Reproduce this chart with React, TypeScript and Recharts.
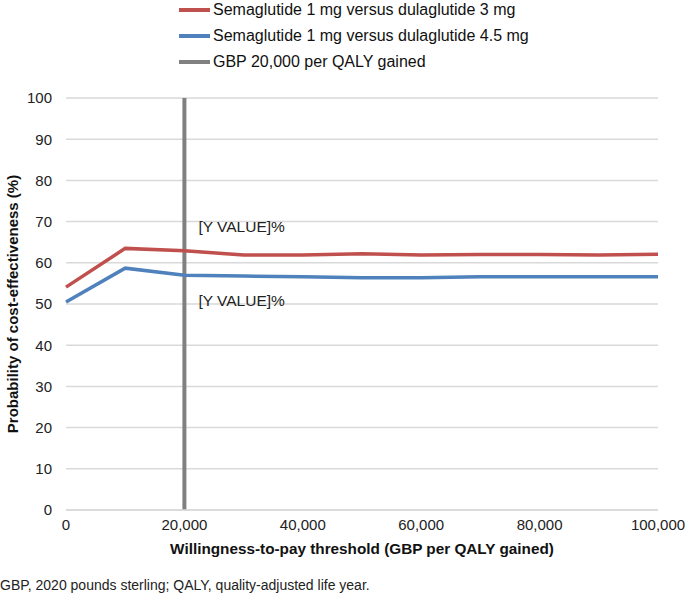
import { LineChart, Line, XAxis, YAxis, CartesianGrid, ReferenceLine, Label } from "recharts"

const thresholds = [0, 10000, 20000, 30000, 40000, 50000, 60000, 70000, 80000, 90000, 100000]
const vsDula3mg = [54.1, 63.5, 62.9, 61.9, 61.9, 62.2, 61.9, 62.0, 62.0, 61.9, 62.1]
const vsDula45mg = [50.5, 58.7, 57.0, 56.8, 56.6, 56.4, 56.4, 56.6, 56.6, 56.6, 56.6]
const xTicks = [0, 20000, 40000, 60000, 80000, 100000]
const yTicks = [0, 10, 20, 30, 40, 50, 60, 70, 80, 90, 100]
const wtpLine = 20000
const labelAt = 20000

const legendItems = [
    { name: "Semaglutide 1 mg versus dulaglutide 3 mg", color: "#c0504d" },
    { name: "Semaglutide 1 mg versus dulaglutide 4.5 mg", color: "#4f81bd" },
    { name: "GBP 20,000 per QALY gained", color: "#808080" },
]

const data = thresholds.map((t, i) => ({ wtp: t, dula3: vsDula3mg[i], dula45: vsDula45mg[i] }))

const font = "'Liberation Sans', Arial, sans-serif"

function LegendBox() {
    return (
        <div style={{ position: "absolute", left: 179, top: -3, fontFamily: font, fontSize: 16, color: "#111" }}>
            {legendItems.map((it) => (
                <div key={it.name} style={{ display: "flex", alignItems: "center", height: 26 }}>
                    <span style={{ display: "inline-block", width: 31, height: 4, background: it.color, marginRight: 3 }} />
                    <span>{it.name}</span>
                </div>
            ))}
        </div>
    )
}

function valueLabel(dy: number) {
    return (props: any) => {
        const { x, y, index } = props
        if (thresholds[index] !== labelAt) return null
        return (
            <text x={x + 14} y={y + dy} fontSize={15.5} fontFamily={font} fill="#222" dominantBaseline="middle">
                [Y VALUE]%
            </text>
        )
    }
}

export default function App() {
    return (
        <div style={{ position: "absolute", left: 0, top: 0, width: 685, height: 595, background: "#fff" }}>
            <LineChart width={685} height={595} data={data} margin={{ top: 98, right: 27, bottom: 0, left: 0 }}>
                <CartesianGrid vertical={false} stroke="#d9d9d9" strokeWidth={1.5} />
                <XAxis
                    dataKey="wtp"
                    type="number"
                    domain={[0, 100000]}
                    ticks={xTicks}
                    tickFormatter={(v) => v.toLocaleString("en-US")}
                    height={85}
                    axisLine={{ stroke: "#d9d9d9", strokeWidth: 1.5 }}
                    tickLine={false}
                    tickMargin={3}
                    tick={{ fill: "#222", fontSize: 15, fontFamily: font }}
                >
                    <Label
                        value="Willingness-to-pay threshold (GBP per QALY gained)"
                        position="insideBottom"
                        offset={41}
                        style={{ fontWeight: "bold", fontSize: 15.3, fontFamily: font, fill: "#111" }}
                    />
                </XAxis>
                <YAxis
                    type="number"
                    domain={[0, 100]}
                    ticks={yTicks}
                    width={66}
                    axisLine={false}
                    tickLine={false}
                    tickMargin={8}
                    tick={{ fill: "#222", fontSize: 15, fontFamily: font }}
                >
                    <Label
                        value="Probability of cost-effectiveness (%)"
                        angle={-90}
                        position="insideLeft"
                        offset={13}
                        style={{ textAnchor: "middle", fontWeight: "bold", fontSize: 15, fontFamily: font, fill: "#111" }}
                    />
                </YAxis>
                <ReferenceLine x={wtpLine} stroke="#808080" strokeWidth={4} />
                <Line
                    dataKey="dula3"
                    name={legendItems[0].name}
                    stroke="#c0504d"
                    strokeWidth={3.5}
                    dot={false}
                    isAnimationActive={false}
                    label={valueLabel(-23)}
                />
                <Line
                    dataKey="dula45"
                    name={legendItems[1].name}
                    stroke="#4f81bd"
                    strokeWidth={3.5}
                    dot={false}
                    isAnimationActive={false}
                    label={valueLabel(27)}
                />
            </LineChart>
            <LegendBox />
            <div style={{ position: "absolute", left: 0, top: 577, fontFamily: font, fontSize: 14, color: "#222" }}>
                GBP, 2020 pounds sterling; QALY, quality-adjusted life year.
            </div>
        </div>
    )
}
